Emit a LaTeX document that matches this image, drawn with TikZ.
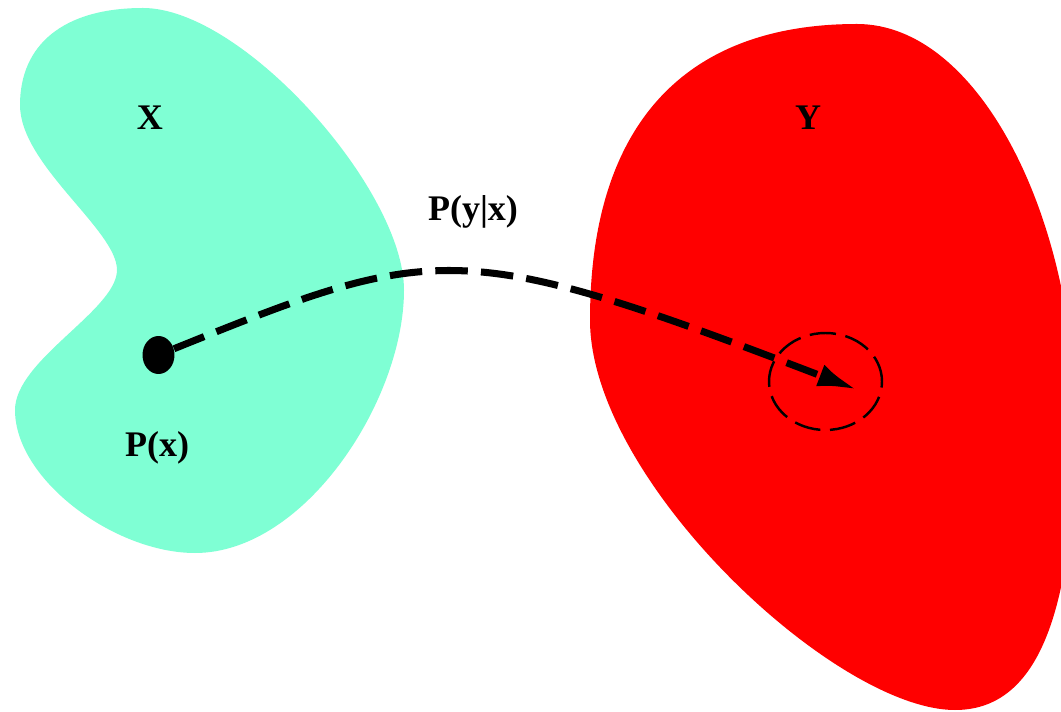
\documentclass[tikz,border=0pt]{standalone}
\usepackage{fontspec}
\setmainfont{Liberation Serif}
\usetikzlibrary{arrows.meta, shapes.geometric}
\definecolor{setx}{HTML}{7FFFD4}
\definecolor{sety}{HTML}{FF0000}

\begin{document}
\begin{tikzpicture}[x=0.02cm, y=-0.02cm,
    lbl/.style={font=\fontsize{20.5}{24}\selectfont\bfseries, inner sep=0pt}]
    \useasboundingbox (0,0) rectangle (1061,712);
    \begin{scope}
      \clip (0,0) rectangle (1061,712);
      % the two sets
      \fill[setx] (143,8) .. controls (243,8) and (404,190) .. (404,290)
        .. controls (404,400) and (305,553) .. (195,553)
        .. controls (115,553) and (15,480) .. (15,410)
        .. controls (15,360) and (117,310) .. (117,270)
        .. controls (117,230) and (20,165) .. (20,105)
        .. controls (20,45) and (63,8) .. cycle;
      \fill[sety] (857,24) .. controls (980,24) and (1075,220) .. (1075,420)
        .. controls (1075,620) and (1035,710) .. (955,710)
        .. controls (835,710) and (590,480) .. (590,320)
        .. controls (590,130) and (680,24) .. cycle;
    \end{scope}
    \node[lbl] (lx) at (150,118) {X};
    \node[lbl] (ly) at (808,118) {Y};
    \node[lbl] (lpx) at (157,448) {P(x)};
    \node[lbl] (lpyx) at (473,212) {P(y|x)};
    % point and its image
    \node[ellipse, fill=black, inner sep=0pt, minimum width=0.64cm, minimum height=0.76cm] (dot) at (158.5,355) {};
    \node[ellipse, draw, line width=1.4pt, dash pattern=on 15pt off 5.5pt, inner sep=0pt,
      minimum width=2.26cm, minimum height=1.94cm] (img) at (825.5,381.5) {};
    \coordinate (tip) at (858,390);
    \draw[line width=4pt, dash pattern=on 18.5pt off 7.5pt, -{Latex[length=23pt, width=13pt]}]
      (dot) .. controls (436,243) and (459,237) .. (tip);
  \end{tikzpicture}
\end{document}
